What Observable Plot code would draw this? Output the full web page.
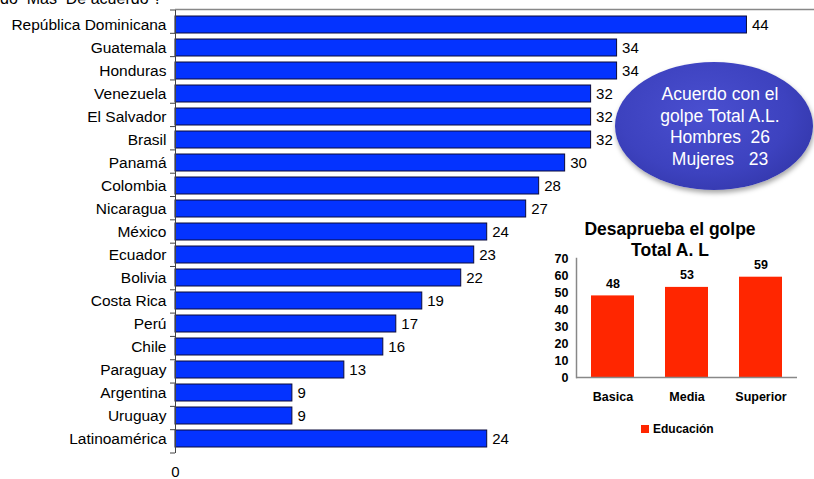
<!DOCTYPE html>
<html>
<head>
<meta charset="utf-8">
<script src="https://cdn.jsdelivr.net/npm/d3@7"></script>
<script src="https://cdn.jsdelivr.net/npm/@observablehq/plot@0.6"></script>
<style>
  html, body { margin: 0; padding: 0; background: #fff; }
  body { width: 814px; height: 479px; position: relative; overflow: hidden; font-family: "Liberation Sans", Arial, Helvetica, sans-serif; }
  #top { position: absolute; left: 0; top: -10px; font-size: 16px; white-space: pre; color: #000; }
  #main { position: absolute; left: 0; top: 0; }
  #bubble { position: absolute; left: 615px; top: 62px; width: 198px; height: 128px; border-radius: 50%;
    background: radial-gradient(ellipse at 45% 40%, #4a4fd0 0%, #3d42bf 55%, #2c2f9c 100%);
    box-shadow: 1px 3px 5px rgba(0,0,0,0.35);
    color: #fff; font-size: 17.5px; line-height: 21.5px; text-align: center; display: flex; align-items: center; justify-content: center; }
  #bubble div { padding-left: 12px; padding-top: 2px; }
  #inset-title { position: absolute; left: 550px; top: 219px; width: 240px; text-align: center; font-weight: bold; font-size: 17.5px; line-height: 21px; }
  #inset { position: absolute; left: 540px; top: 250px; }
  #legend { position: absolute; left: 641px; top: 422px; font-size: 12px; font-weight: bold; display: flex; align-items: center; }
  #legend span.sw { display: inline-block; width: 8px; height: 8px; background: #ff2600; margin-right: 4px; }
</style>
</head>
<body>
<div id="top">do  Más  De acuerdo ?</div>
<div id="main"></div>
<div id="bubble"><div>Acuerdo con el<br>golpe Total A.L.<br>Hombres&nbsp; 26<br>Mujeres &nbsp; 23</div></div>
<div id="inset-title">Desaprueba el golpe<br>Total A. L</div>
<div id="inset"></div>
<div id="legend"><span class="sw"></span><span>Educación</span></div>
<script>
const countries = ["República Dominicana","Guatemala","Honduras","Venezuela","El Salvador","Brasil","Panamá","Colombia","Nicaragua","México","Ecuador","Bolivia","Costa Rica","Perú","Chile","Paraguay","Argentina","Uruguay","Latinoamérica"];
const values = [44,34,34,32,32,32,30,28,27,24,23,22,19,17,16,13,9,9,24];
const xTicks = [0];

const levels = ["Basica","Media","Superior"];
const disapprove = [48,53,59];
const insetTicks = [0,10,20,30,40,50,60,70];
const legendLabel = "Educación";

const data = countries.map((c, i) => ({country: c, value: values[i]}));
const font = "'Liberation Sans', Arial, Helvetica, sans-serif";

const main = Plot.plot({
  width: 814, height: 479,
  marginLeft: 175, marginRight: 0, marginTop: 10, marginBottom: 26,
  style: {fontFamily: font, fontSize: "15px", color: "#000", background: "transparent", overflow: "visible"},
  x: {domain: [0, 49.2], axis: null},
  y: {domain: countries, paddingInner: 0.27, paddingOuter: 0.135, axis: null},
  marks: [
    Plot.barX(data, {x: "value", y: "country", fill: "#0433ff", stroke: "#0b0b3b", strokeWidth: 1}),
    Plot.text(data, {x: "value", y: "country", text: d => String(d.value), textAnchor: "start", dx: 5, fill: "#000", fontSize: 15}),
    Plot.axisY({tickSize: 0, tickPadding: 9, fontSize: 15.5, fill: "#000", label: null}),
    Plot.axisX({ticks: xTicks, tickSize: 0, tickPadding: 13, fontSize: 15, fill: "#000", label: null})
  ]
});
document.getElementById("main").appendChild(main);

// axis line, top frame line and band-boundary ticks from the scales
{
  const svg = d3.select(main);
  const xs = main.scale("x"), ys = main.scale("y");
  const x0 = xs.apply(0);
  const [r0, r1] = ys.range;
  const step = (r1 - r0) / countries.length;
  svg.append("line").attr("x1", x0).attr("x2", 814).attr("y1", r0 - 0.5).attr("y2", r0 - 0.5).attr("stroke", "#888").attr("stroke-width", 1.5);
  svg.append("line").attr("x1", x0 + 0.5).attr("x2", x0 + 0.5).attr("y1", r0).attr("y2", r1).attr("stroke", "#444");
  for (let i = 0; i <= countries.length; i++) {
    const yy = r0 + i * step;
    svg.append("line").attr("x1", x0 - 5).attr("x2", x0).attr("y1", yy).attr("y2", yy).attr("stroke", "#444");
  }
}

const inset = Plot.plot({
  width: 270, height: 160,
  marginLeft: 36, marginRight: 13, marginTop: 8, marginBottom: 33,
  style: {fontFamily: font, fontSize: "12.5px", fontWeight: "bold", color: "#000", background: "transparent", overflow: "visible"},
  x: {domain: levels, paddingInner: 0.423, paddingOuter: 0.195, axis: null},
  y: {domain: [0, 70], axis: null},
  marks: [
    Plot.barY(levels.map((l, i) => ({level: l, v: disapprove[i]})), {x: "level", y: "v", fill: "#ff2600"}),
    Plot.text(levels.map((l, i) => ({level: l, v: disapprove[i]})), {x: "level", y: "v", text: d => String(d.v), dy: -12, fontSize: 12.5, fontWeight: "bold", fill: "#000"}),
    Plot.axisY({ticks: insetTicks, tickSize: 0, tickPadding: 8, fontSize: 12.5, fontWeight: "bold", fill: "#000", label: null}),
    Plot.axisX({tickSize: 0, tickPadding: 15, fontSize: 12.5, fontWeight: "bold", fill: "#000", label: null}),
    Plot.ruleY([0], {stroke: "#888", strokeWidth: 1.5}),
    Plot.frame({anchor: "left", stroke: "#888", strokeWidth: 1.5})
  ]
});
document.getElementById("inset").appendChild(inset);
document.querySelector("#legend span:last-child").textContent = legendLabel;
</script>
</body>
</html>
